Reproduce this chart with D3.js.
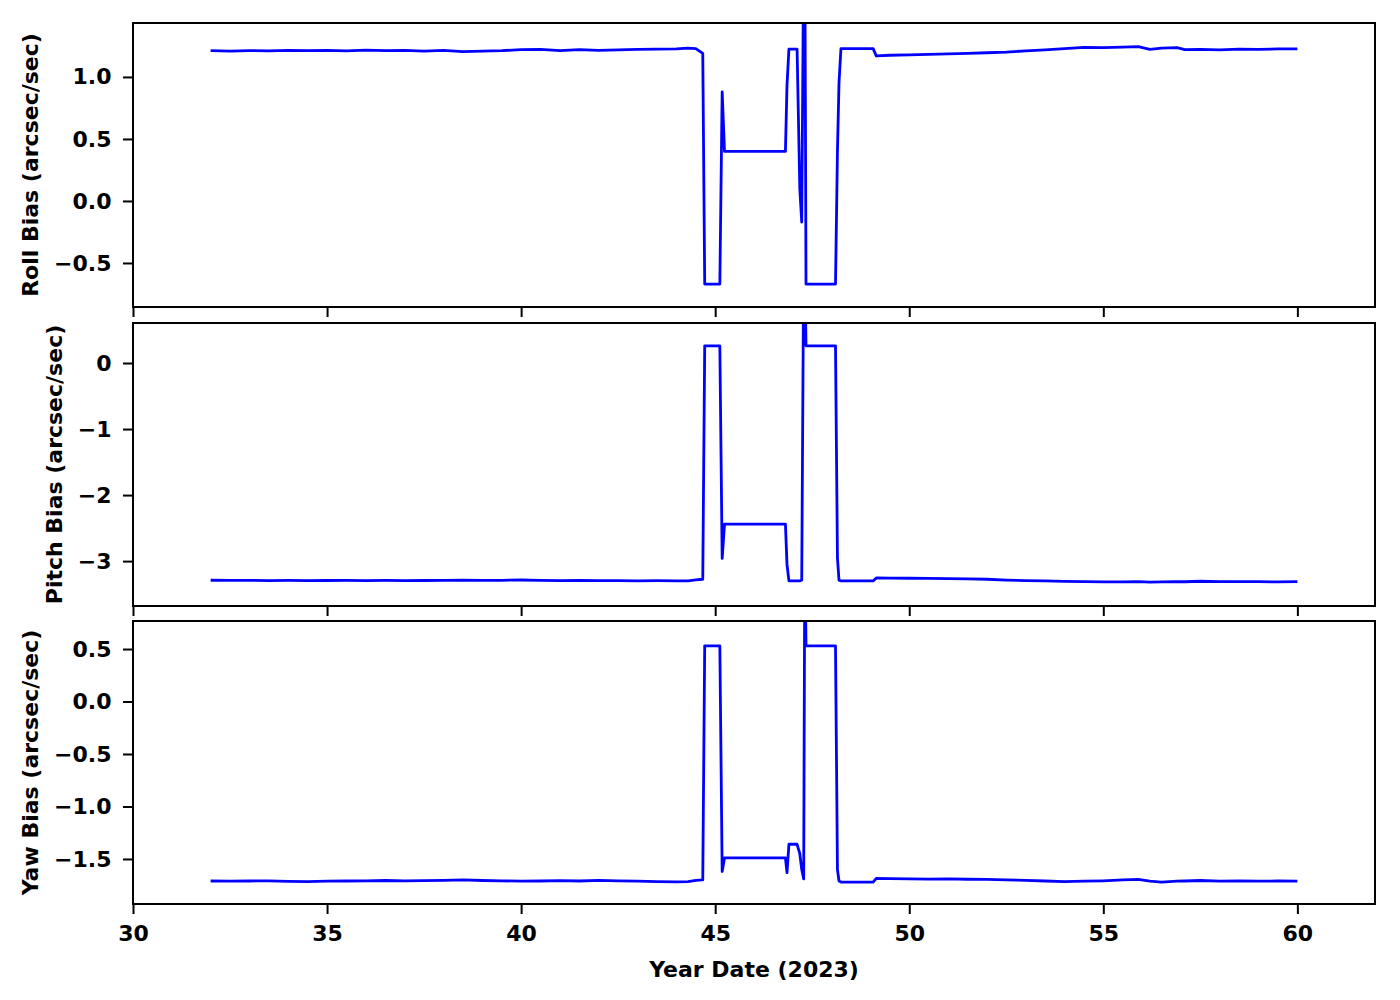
<!DOCTYPE html>
<html><head><meta charset="utf-8">
<script src="https://cdn.jsdelivr.net/npm/d3@7"></script>
<style>
html,body{margin:0;padding:0;background:#fff;}
svg{display:block;}
text{font-family:"DejaVu Sans",sans-serif;font-weight:bold;fill:#000;}
</style></head>
<body>
<script>
const days = [32,32.5,33,33.5,34,34.5,35,35.5,36,36.5,37,37.5,38,38.5,39,39.5,40,40.5,41,41.5,42,42.5,43,43.5,44,44.3,44.5,
  44.68,44.73,45.12,45.18,45.24,46.81,46.85,46.90,46.93,47.11,47.18,47.23,47.28,47.31,47.34,48.10,48.15,48.19,48.24,49.07,49.15,
  49.5,50,50.5,51,51.5,52,52.5,53,53.5,54,54.5,55,55.5,55.9,56.2,56.5,56.9,57.1,57.5,58,58.5,59,59.5,60];

const roll = [1.212,1.208,1.213,1.210,1.215,1.212,1.214,1.210,1.216,1.212,1.214,1.209,1.215,1.204,1.208,1.212,1.220,1.222,1.212,1.220,1.214,1.218,1.222,1.224,1.226,1.232,1.228,
  1.19,-0.67,-0.67,0.88,0.40,0.40,0.93,1.225,1.225,1.225,0.10,-0.17,2.0,2.0,-0.67,-0.67,0.40,0.95,1.228,1.228,1.17,
  1.175,1.178,1.182,1.186,1.190,1.195,1.200,1.210,1.218,1.228,1.238,1.236,1.240,1.244,1.222,1.232,1.236,1.220,1.222,1.218,1.225,1.222,1.226,1.226];

const pitch = [-3.290,-3.293,-3.292,-3.295,-3.293,-3.296,-3.294,-3.292,-3.295,-3.293,-3.296,-3.294,-3.293,-3.290,-3.293,-3.291,-3.286,-3.292,-3.296,-3.294,-3.297,-3.295,-3.298,-3.296,-3.300,-3.298,-3.285,
  -3.275,0.26,0.26,-2.96,-2.44,-2.44,-3.05,-3.30,-3.30,-3.30,-3.30,-3.285,1.5,1.5,0.26,0.26,-2.95,-3.29,-3.30,-3.30,-3.255,
  -3.258,-3.260,-3.262,-3.265,-3.270,-3.275,-3.288,-3.295,-3.300,-3.308,-3.312,-3.316,-3.314,-3.312,-3.318,-3.315,-3.310,-3.313,-3.305,-3.310,-3.310,-3.312,-3.314,-3.310];

const yaw = [-1.710,-1.712,-1.710,-1.708,-1.713,-1.715,-1.712,-1.710,-1.708,-1.705,-1.708,-1.706,-1.703,-1.700,-1.705,-1.708,-1.712,-1.710,-1.706,-1.710,-1.703,-1.708,-1.712,-1.715,-1.718,-1.715,-1.703,
  -1.700,0.53,0.53,-1.62,-1.49,-1.49,-1.63,-1.36,-1.36,-1.36,-1.45,-1.60,-1.69,1.5,0.53,0.53,-1.60,-1.71,-1.72,-1.72,-1.685,
  -1.688,-1.690,-1.692,-1.690,-1.693,-1.695,-1.700,-1.703,-1.710,-1.715,-1.712,-1.708,-1.700,-1.695,-1.712,-1.720,-1.712,-1.710,-1.705,-1.712,-1.710,-1.712,-1.710,-1.712];

const xTicks = [30,35,40,45,50,55,60];
const rollTicks = [-0.5,0,0.5,1.0];
const pitchTicks = [-3,-2,-1,0];
const yawTicks = [-1.5,-1.0,-0.5,0,0.5];
const xLabel = "Year Date (2023)";

const panels = [
  {label:"Roll Bias (arcsec/sec)", values:roll, ticks:rollTicks, fmt:d3.format(".1f"), domain:[-0.855,1.435], top:23, bottom:307},
  {label:"Pitch Bias (arcsec/sec)", values:pitch, ticks:pitchTicks, fmt:d3.format("d"), domain:[-3.68,0.606], top:323, bottom:606},
  {label:"Yaw Bias (arcsec/sec)", values:yaw, ticks:yawTicks, fmt:d3.format(".1f"), domain:[-1.929,0.767], top:621, bottom:904}
];

const FS = 22;
const W=1400,H=1000,L=133,R=1375;
const svg = d3.select("body").append("svg").attr("width",W).attr("height",H);
const x = d3.scaleLinear().domain([30,62]).range([L,R]);
const minus = s => s.replace("-", "\u2212");

panels.forEach((p,i)=>{
  const y = d3.scaleLinear().domain(p.domain).range([p.bottom,p.top]);
  const g = svg.append("g");
  const cid = "clip"+i;
  svg.append("clipPath").attr("id",cid).append("rect")
    .attr("x",L).attr("y",p.top).attr("width",R-L).attr("height",p.bottom-p.top);
  const line = d3.line().x((d,j)=>x(days[j])).y(d=>y(d));
  g.append("path").datum(p.values).attr("clip-path",`url(#${cid})`)
    .attr("d",line).attr("fill","none").attr("stroke","#0000ff").attr("stroke-width",2.8)
    .attr("stroke-linejoin","round");

  const ya = g.append("g").attr("transform",`translate(${L},0)`)
    .call(d3.axisLeft(y).tickValues(p.ticks).tickFormat(d=>minus(p.fmt(d))).tickSize(10).tickPadding(11.5).tickSizeOuter(0));
  ya.select(".domain").remove();
  ya.selectAll("line").attr("stroke","#000").attr("stroke-width",2);
  ya.selectAll("text").attr("font-size",FS).attr("font-family","DejaVu Sans").attr("font-weight","bold").attr("fill","#000");

  const xa = g.append("g").attr("transform",`translate(0,${p.bottom})`)
    .call(d3.axisBottom(x).tickValues(xTicks).tickFormat(i===2?d3.format("d"):()=>"").tickSize(10).tickPadding(11.5).tickSizeOuter(0));
  xa.select(".domain").remove();
  xa.selectAll("line").attr("stroke","#000").attr("stroke-width",2);
  xa.selectAll("text").attr("font-size",FS).attr("font-family","DejaVu Sans").attr("font-weight","bold").attr("fill","#000");

  g.append("rect").attr("x",L).attr("y",p.top).attr("width",R-L).attr("height",p.bottom-p.top)
    .attr("fill","none").attr("stroke","#000").attr("stroke-width",2);

  let minX = Infinity;
  ya.selectAll("text").each(function(){ const b=this.getBBox(); minX=Math.min(minX, L+b.x); });
  const lx = minX - 15.6;
  const cy = (p.top+p.bottom)/2;
  svg.append("text").attr("transform",`translate(${lx},${cy}) rotate(-90)`)
    .attr("text-anchor","middle").attr("font-size",FS).text(p.label);
});

svg.append("text").attr("x",(L+R)/2).attr("y",977).attr("text-anchor","middle").attr("font-size",FS).text(xLabel);
</script>
</body></html>
